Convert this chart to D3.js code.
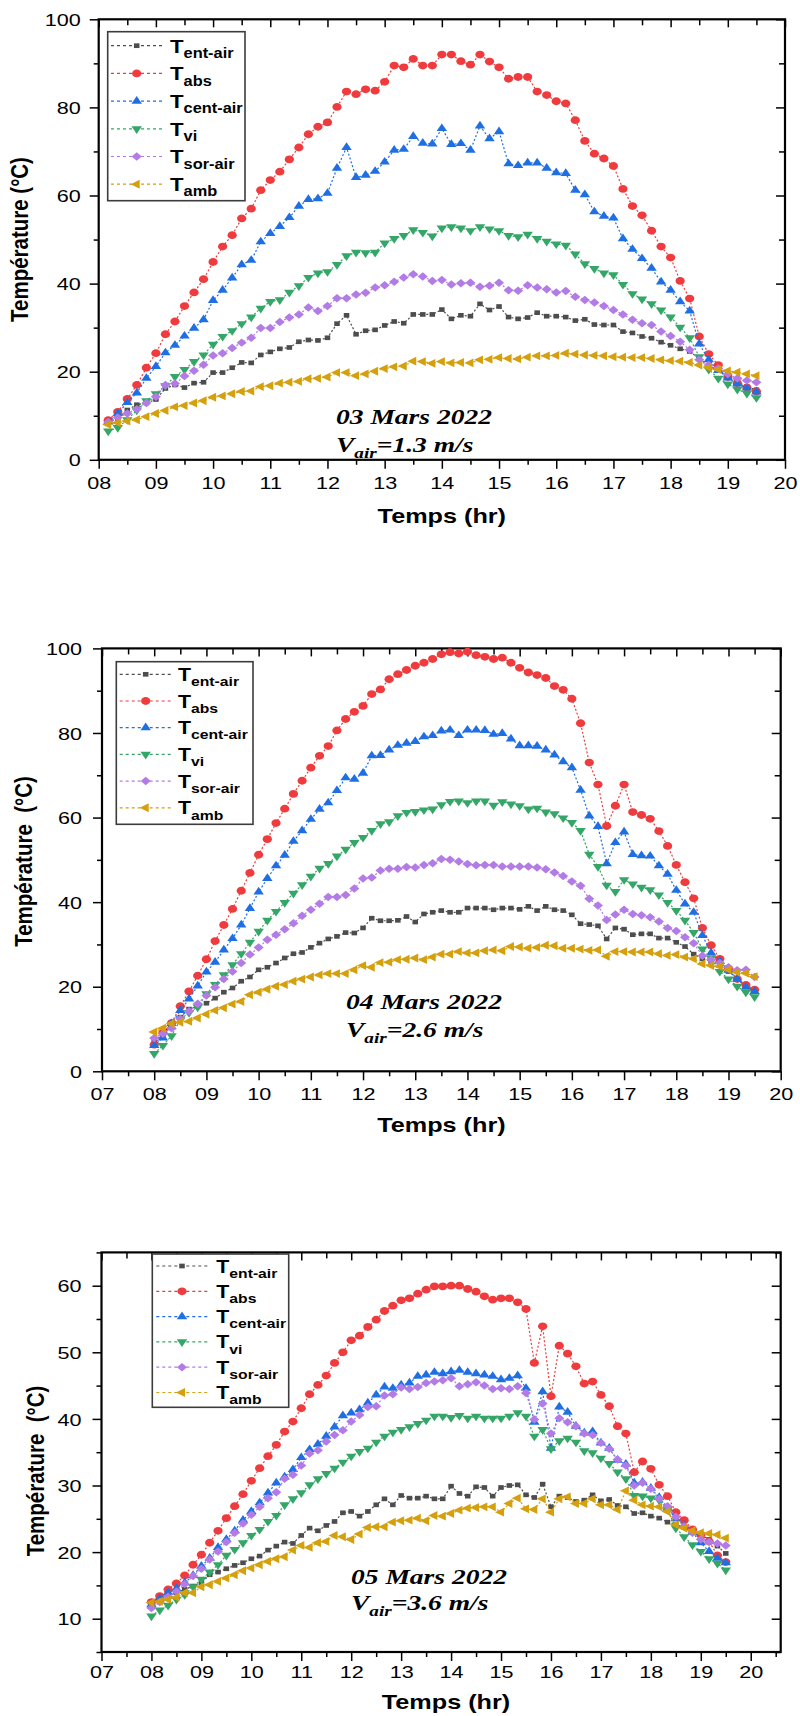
<!DOCTYPE html>
<html>
<head>
<meta charset="utf-8">
<script src="https://cdn.jsdelivr.net/npm/d3@7"></script>
<style>
body { margin: 0; background: #fff; }
text { font-family: "Liberation Sans", Arial, sans-serif; }
</style>
</head>
<body>
<svg id="fig" width="800" height="1716"></svg>
<script>
// time stamps (10 min steps)
var times = [
  "08:00","08:10","08:20","08:30","08:40","08:50",
  "09:00","09:10","09:20","09:30","09:40","09:50",
  "10:00","10:10","10:20","10:30","10:40","10:50",
  "11:00","11:10","11:20","11:30","11:40","11:50",
  "12:00","12:10","12:20","12:30","12:40","12:50",
  "13:00","13:10","13:20","13:30","13:40","13:50",
  "14:00","14:10","14:20","14:30","14:40","14:50",
  "15:00","15:10","15:20","15:30","15:40","15:50",
  "16:00","16:10","16:20","16:30","16:40","16:50",
  "17:00","17:10","17:20","17:30","17:40","17:50",
  "18:00","18:10","18:20","18:30","18:40","18:50",
  "19:00","19:10","19:20","19:30"
];
var times1 = times.slice(1); // 03 Mars starts at 08:10

// tick labels
var xTicks1 = [8,9,10,11,12,13,14,15,16,17,18,19,20];
var xTicks23 = [7,8,9,10,11,12,13,14,15,16,17,18,19,20];
var yTicks12 = [0,20,40,60,80,100];
var yMinor12 = [10,30,50,70,90];
var yTicks3 = [10,20,30,40,50,60];
var yMinor3 = [5,15,25,35,45,55,65];

var legendNames = ["ent-air","abs","cent-air","vi","sor-air","amb"];

// ---- 03 Mars 2022 ----
var ent1 = [8.6,9.4,11.3,12.5,12.9,13.7,16.2,17.0,16.4,17.4,17.6,19.8,19.8,20.9,22.1,22.0,23.8,24.5,25.2,25.5,26.8,27.2,27.1,27.7,30.9,32.8,28.5,29.3,29.5,30.5,31.4,31.0,33.0,33.0,33.0,34.1,32.0,32.8,32.6,35.4,34.0,34.8,32.4,32.0,32.3,33.4,32.6,32.6,32.4,31.6,31.9,30.7,30.6,30.6,29.1,28.8,28.0,27.6,26.7,26.0,25.2,24.6,23.0,21.3,20.3,19.1,17.7,16.6,15.9];
var abs1 = [9.0,10.9,13.8,17.0,20.9,24.2,28.5,31.4,34.9,38.0,41.0,44.9,48.4,51.0,54.8,57.0,61.2,63.5,65.4,68.2,70.9,73.9,75.6,76.6,80.1,83.6,83.0,84.1,83.8,85.8,89.5,89.1,91.0,89.5,89.5,92.0,92.0,90.5,89.7,92.0,90.4,89.1,86.5,86.9,86.9,83.6,82.8,81.4,80.9,77.1,72.4,69.5,68.4,66.7,61.5,57.6,55.5,52.0,48.4,45.9,40.6,36.6,28.0,24.0,21.5,18.8,17.4,16.4,15.5];
var cent1 = [8.6,10.5,13.0,15.2,18.5,21.2,24.3,26.0,28.1,29.9,31.8,36.2,38.5,41.3,44.3,45.3,49.5,51.4,53.0,55.0,57.6,59.1,59.3,60.5,66.2,70.9,64.1,64.6,65.5,67.6,70.3,70.5,73.4,71.9,71.7,75.2,71.6,71.8,70.3,75.8,72.9,74.5,67.2,66.8,67.4,67.4,66.2,65.2,65.0,61.2,60.2,56.3,55.3,54.9,50.2,47.8,45.7,43.5,40.4,38.5,35.9,33.8,26.3,22.7,20.3,18.6,17.2,16.3,15.4];
var vi1 = [6.5,7.3,9.1,11.3,13.4,15.0,16.8,18.9,20.5,22.3,23.8,26.2,28.0,29.3,30.9,32.4,34.4,35.9,36.3,38.0,39.5,41.4,42.4,42.7,44.3,46.3,47.1,47.0,47.1,49.2,50.2,50.9,52.2,51.6,50.8,52.6,52.9,52.6,52.0,52.9,52.4,52.0,50.9,50.6,51.2,50.2,49.6,49.0,48.7,46.7,44.5,43.4,42.4,42.0,39.8,37.7,36.5,35.4,34.0,32.4,30.1,27.7,23.4,20.5,18.5,17.2,16.0,15.1,14.1];
var sor1 = [8.6,9.6,10.5,11.5,12.9,14.3,17.0,17.3,19.0,20.2,21.6,23.7,24.2,25.4,26.6,27.7,29.9,29.9,31.3,32.3,33.0,34.6,33.8,34.9,36.7,36.7,37.5,37.9,39.1,39.6,40.4,41.4,42.1,41.6,40.6,40.8,39.8,40.1,40.2,39.3,39.5,40.2,38.5,38.4,39.6,39.1,38.7,38.0,38.3,37.0,36.3,35.7,34.9,34.0,33.0,31.8,31.0,30.6,29.1,28.1,26.8,25.0,22.7,21.5,20.7,19.5,18.5,18.0,17.6];
var amb1 = [8.0,8.4,8.8,9.1,9.8,10.5,11.2,12.0,12.3,12.9,13.4,14.2,14.5,15.0,15.5,15.6,16.6,16.8,17.4,17.6,17.8,18.4,18.5,18.8,19.8,19.8,19.1,19.5,20.1,20.7,21.1,21.3,22.4,22.3,21.9,22.3,22.0,22.1,22.0,22.7,22.8,23.2,23.0,22.9,23.3,23.6,23.6,23.7,24.2,24.0,23.8,23.7,23.6,23.4,23.3,23.2,23.2,23.0,22.7,22.5,22.4,22.1,21.5,20.9,20.5,20.2,19.9,19.5,19.1];

// ---- 04 Mars 2022 ----
var ent2 = [7.1,8.7,11.6,12.8,14.7,15.4,16.1,17.3,18.7,19.7,21.3,22.3,24.0,24.6,25.6,26.8,27.8,28.1,29.3,30.3,31.3,31.9,32.8,32.7,33.9,36.2,35.6,35.6,35.7,36.6,35.3,37.2,37.6,38.0,37.6,37.6,38.6,38.6,38.6,38.2,38.6,38.6,38.3,39.0,38.0,39.0,38.2,38.0,37.0,34.9,34.7,34.4,31.3,33.9,33.6,32.3,32.5,32.5,31.5,31.5,30.5,29.5,27.7,26.6,26.0,25.2,23.6,22.0,20.1,19.1];
var abs2 = [6.3,9.1,11.4,15.4,18.9,22.6,26.5,30.8,34.6,38.4,42.7,46.9,51.2,54.9,58.7,62.1,65.6,68.7,71.8,74.6,76.9,80.6,83.3,85.0,86.4,89.2,90.3,92.7,93.9,94.9,95.9,96.6,97.5,98.6,99.1,98.8,99.2,98.4,98.0,97.5,97.8,96.6,95.4,94.3,93.7,93.0,91.1,90.2,88.1,82.3,73.0,67.8,58.0,62.8,67.8,61.3,60.6,59.7,56.8,53.3,48.8,44.7,40.9,33.9,29.8,26.6,24.2,21.8,20.4,19.3];
var cent2 = [6.1,7.9,11.3,14.4,17.1,20.2,23.5,25.8,28.7,31.4,34.6,38.5,42.4,45.6,48.6,51.1,54.4,56.9,59.6,62.0,63.5,66.4,69.4,69.1,70.5,74.6,74.7,76.0,77.1,77.6,78.0,79.1,79.4,80.5,80.7,79.4,80.7,80.7,80.6,79.7,79.9,78.6,77.0,77.0,76.9,76.0,74.8,73.2,71.8,66.5,60.4,57.9,49.1,54.1,56.6,51.3,51.0,50.9,48.6,46.6,42.8,39.6,37.6,32.1,28.0,26.0,23.9,21.8,19.9,18.9];
var vi2 = [4.2,6.1,8.4,12.2,13.9,15.2,18.3,20.5,22.8,25.2,27.8,30.5,33.1,35.7,37.8,39.9,42.1,44.1,46.1,48.0,49.1,50.9,52.5,54.1,55.3,56.9,58.5,59.0,60.4,61.2,61.4,61.8,62.0,63.0,63.8,63.9,63.5,63.9,63.9,62.9,63.7,63.2,62.8,62.0,62.2,61.3,60.9,59.9,58.8,56.9,51.3,48.4,44.0,42.5,45.3,44.3,43.5,42.9,41.7,39.9,38.0,35.7,32.8,28.9,26.8,23.6,21.8,20.1,18.7,17.6];
var sor2 = [7.9,8.9,10.2,12.4,14.2,16.0,17.9,19.9,21.8,23.6,25.6,27.6,29.3,31.1,32.3,33.6,35.0,36.8,38.2,39.6,41.2,41.2,41.7,43.2,45.6,45.8,47.5,47.9,47.9,48.3,48.2,48.8,49.2,50.2,50.0,49.6,49.0,48.7,48.8,48.8,48.4,48.4,48.4,48.4,48.2,47.8,47.0,46.2,44.9,43.9,40.8,39.2,35.8,37.1,38.2,37.2,36.9,36.4,35.4,33.9,33.2,31.7,30.3,27.3,26.4,25.6,24.6,23.9,24.0,22.3];
var amb2 = [9.3,10.2,11.3,11.6,11.8,12.6,13.5,14.4,15.0,15.9,16.5,18.1,18.7,19.4,20.1,20.5,21.3,21.8,22.3,22.8,23.1,23.1,23.1,24.0,25.0,24.6,25.7,25.8,26.4,26.5,26.8,26.4,27.0,27.7,27.7,28.3,28.0,28.0,28.5,28.7,28.5,29.5,29.4,29.1,29.3,29.8,29.7,29.1,29.1,28.9,28.6,28.7,27.2,28.3,28.3,28.2,28.2,28.2,27.8,27.4,27.6,27.0,26.6,25.4,25.0,24.8,24.0,23.4,23.2,22.4];

// ---- 05 Mars 2022 ----
var ent3 = [12.4,12.5,13.4,13.9,14.4,14.9,15.4,16.6,17.0,17.5,18.0,18.4,19.0,19.4,20.3,20.9,21.5,21.3,22.5,23.6,23.2,24.0,24.6,25.9,26.1,25.4,26.1,27.1,28.0,27.1,28.5,28.1,28.1,28.4,28.0,28.0,
            29.9,28.8,28.4,29.8,29.7,28.4,29.7,30.0,30.1,28.6,28.2,30.2,26.8,28.4,28.2,27.6,27.8,28.6,27.7,27.9,27.0,26.8,25.8,25.9,25.4,25.1,24.5,24.2,23.7,23.1,22.6,21.9,20.9,19.8];
var abs3 = [12.5,13.4,14.4,15.3,16.5,18.1,19.6,21.4,23.2,25.1,26.9,28.7,30.7,32.6,34.4,36.1,38.1,39.6,41.6,43.7,45.1,46.5,48.4,50.0,51.8,52.5,53.8,54.9,56.2,57.0,57.8,58.1,58.8,59.4,59.9,59.9,
            60.0,60.0,59.5,59.1,58.4,57.9,58.1,58.1,57.5,56.5,48.4,53.9,43.4,51.0,49.8,47.9,45.3,45.6,43.6,41.9,38.9,37.8,32.0,33.6,32.5,30.1,28.4,26.0,24.8,23.4,22.6,21.6,19.5,18.5];
var cent3 = [12.1,13.0,13.9,14.5,15.4,16.5,17.9,19.1,20.7,21.9,23.2,24.8,26.1,27.4,28.9,30.4,31.3,32.4,34.2,35.4,36.2,37.4,38.8,40.5,40.9,41.4,42.4,43.6,44.8,44.6,45.1,45.4,46.4,46.6,47.0,46.8,
             47.1,47.3,47.0,46.8,46.6,46.4,45.9,46.1,46.5,44.6,39.5,44.1,35.6,41.8,41.0,38.9,37.9,38.1,36.4,35.6,33.8,33.2,30.4,30.5,29.6,28.2,26.6,25.0,24.0,23.0,21.4,20.1,19.1,18.4];
var vi3 = [10.4,11.3,12.0,12.9,13.6,14.8,15.9,17.0,18.1,19.5,20.4,21.4,22.5,23.4,24.6,25.5,27.1,28.0,28.9,30.1,31.0,31.8,32.6,33.5,34.4,35.1,35.6,36.5,37.4,38.0,38.4,38.8,39.3,39.8,40.4,40.4,
           40.2,40.5,40.1,40.4,40.1,40.1,40.1,40.4,40.9,40.4,37.4,38.4,35.5,36.7,37.1,36.5,35.2,34.9,34.1,33.3,32.0,31.0,28.5,28.4,28.1,27.8,26.4,23.6,22.3,21.1,20.1,19.0,18.3,17.3];
var sor3 = [11.6,12.5,13.3,14.1,15.2,16.4,17.5,18.9,20.1,21.5,22.9,24.3,25.6,26.8,28.1,29.0,31.0,31.6,33.0,34.8,35.3,36.6,37.6,38.3,39.6,40.6,41.8,41.9,43.5,43.7,44.7,44.5,44.8,45.4,45.6,45.8,
            46.1,44.9,45.2,45.5,45.0,44.5,44.6,44.5,44.9,43.9,39.9,42.3,37.8,40.1,39.5,38.9,37.8,37.6,36.4,35.5,33.9,33.0,30.0,30.4,29.5,28.0,26.9,25.3,23.9,22.9,21.9,21.5,21.3,21.0];
var amb3 = [12.4,12.6,12.9,13.2,13.9,13.9,14.8,15.1,15.6,16.1,16.6,17.2,17.6,18.1,18.6,19.0,19.3,20.3,21.0,20.7,21.4,21.6,22.5,22.3,21.9,22.7,23.7,23.8,23.8,24.5,24.7,24.8,25.1,24.7,25.5,25.4,
            25.8,26.3,26.6,26.7,26.8,26.8,26.0,27.3,28.1,26.5,26.4,28.0,26.0,28.0,28.3,27.3,27.3,28.0,27.1,27.1,26.4,29.2,27.8,27.1,26.9,26.8,26.1,24.1,23.6,23.2,22.9,22.8,22.6,22.1];

// styles
var colors = ["#4d4d4d","#ef3b3d","#1f6fe2","#34a667","#b27be5","#d5a00d"];
var shapes = ["square","circle","up","down","diamond","left"];

var panels = [
  { date: "03 Mars 2022", vair: "=1.3 m/s", times: times1,
    series: [ent1, abs1, cent1, vi1, sor1, amb1],
    xDom: [8, 20], xMajor: xTicks1, yDom: [0, 100], yMajor: yTicks12, yMinor: yMinor12,
    box: {l: 98.7, r: 785, t: 19.3, b: 459.8}, xOff: 29, yGap: 18,
    xTitle: [441.8, 522.7], yTitle: [28, 239.5, "Température (°C)"],
    leg: {x0: 107.7, x1: 245, y0: 31.7, y1: 200.7, row: 45.7, step: 27.7, l1: 111, l2: 164, m: 136.7, tx: 170, k: 1},
    ann: {x: 336, y1: 424, y2: 452} },
  { date: "04 Mars 2022", vair: "=2.6 m/s", times: times,
    series: [ent2, abs2, cent2, vi2, sor2, amb2],
    xDom: [7, 20], xMajor: xTicks23, yDom: [0, 100], yMajor: yTicks12, yMinor: yMinor12,
    box: {l: 102, r: 780.7, t: 648.4, b: 1071.3}, xOff: 28.7, yGap: 20,
    xTitle: [441.4, 1131.7], yTitle: [31.7, 861.5, "Température\u00a0\u00a0(°C)"],
    leg: {x0: 116.3, x1: 253, y0: 661.7, y1: 824.3, row: 674.3, step: 26.7, l1: 119.7, l2: 171.3, m: 145.7, tx: 178, k: 0.96},
    ann: {x: 346, y1: 1009.3, y2: 1036.7} },
  { date: "05 Mars 2022", vair: "=3.6 m/s", times: times,
    series: [ent3, abs3, cent3, vi3, sor3, amb3],
    xDom: [7, 20.6], xMajor: xTicks23, yDom: [5, 65], yMajor: yTicks3, yMinor: yMinor3,
    box: {l: 101.5, r: 780.7, t: 1252.4, b: 1652}, xOff: 26, yGap: 20,
    xTitle: [446, 1709], yTitle: [43.5, 1471, "Température\u00a0\u00a0(°C)"],
    leg: {x0: 152.3, x1: 288.7, y0: 1254, y1: 1407.3, row: 1266, step: 25.3, l1: 156.3, l2: 208, m: 182, tx: 216.3, k: 0.96},
    ann: {x: 351, y1: 1584, y2: 1610} }
];

var svg = d3.select("#fig");

function hours(s) {
  var p = s.split(":");
  return +p[0] + (+p[1]) / 60;
}

// symbol path + rotation for each marker kind
function marker(sel, shape, color) {
  var sym = d3.symbolCircle, size = 48, rot = 0;
  if (shape == "square") { sym = d3.symbolSquare; size = 22; }
  if (shape == "up") { sym = d3.symbolTriangle; size = 34; }
  if (shape == "down") { sym = d3.symbolTriangle; size = 34; rot = 180; }
  if (shape == "left") { sym = d3.symbolTriangle; size = 34; rot = -90; }
  if (shape == "diamond") { sym = d3.symbolSquare; size = 36; rot = 45; }
  sel.attr("d", d3.symbol().type(sym).size(size)())
    .attr("fill", color);
  return rot;
}

panels.forEach(function(p) {
  var g = svg.append("g");
  var x = d3.scaleLinear().domain(p.xDom).range([p.box.l, p.box.r]);
  var y = d3.scaleLinear().domain(p.yDom).range([p.box.b, p.box.t]);

  var xMinor = p.xMajor.map(function(d) { return d + 0.5; })
    .filter(function(d) { return d < p.xDom[1]; });

  // bottom axis, outward ticks
  var bot = g.append("g").attr("transform", "translate(0," + p.box.b + ")");
  bot.call(d3.axisBottom(x).tickValues(p.xMajor).tickSize(9).tickFormat(d3.format("02d")));
  bot.append("g").call(d3.axisBottom(x).tickValues(xMinor).tickSize(5).tickFormat(""));
  // top axis, inward ticks
  var top = g.append("g").attr("transform", "translate(0," + p.box.t + ")");
  top.call(d3.axisTop(x).tickValues(p.xMajor).tickSize(-8).tickFormat(""));
  top.append("g").call(d3.axisTop(x).tickValues(xMinor).tickSize(-6).tickFormat(""));
  // left axis
  var left = g.append("g").attr("transform", "translate(" + p.box.l + ",0)");
  left.call(d3.axisLeft(y).tickValues(p.yMajor).tickSize(9));
  left.append("g").call(d3.axisLeft(y).tickValues(p.yMinor).tickSize(5).tickFormat(""));
  // right axis
  var right = g.append("g").attr("transform", "translate(" + p.box.r + ",0)");
  right.call(d3.axisRight(y).tickValues(p.yMajor).tickSize(-9).tickFormat(""));
  right.append("g").call(d3.axisRight(y).tickValues(p.yMinor).tickSize(-6).tickFormat(""));

  g.selectAll(".domain").remove();
  g.selectAll(".tick line").attr("stroke", "#000").attr("stroke-width", 1.5);
  bot.selectAll(".tick text")
    .attr("y", p.xOff).attr("dy", null)
    .attr("transform", "scale(1.27,1)")
    .style("font-size", "17px").attr("fill", "#000");
  left.selectAll(".tick text")
    .attr("x", -p.yGap / 1.27).attr("dy", "0.36em")
    .attr("transform", "scale(1.27,1)")
    .style("font-size", "17px").attr("fill", "#000");
  g.selectAll(".tick text").attr("font-family", null);

  // frame
  g.append("rect")
    .attr("x", p.box.l).attr("y", p.box.t)
    .attr("width", p.box.r - p.box.l).attr("height", p.box.b - p.box.t)
    .attr("fill", "none").attr("stroke", "#000").attr("stroke-width", 2.2);

  // series
  var tx = p.times.map(hours);
  p.series.forEach(function(vals, k) {
    var pts = vals.map(function(v, i) { return [tx[i], v]; });
    g.append("path")
      .datum(pts)
      .attr("fill", "none")
      .attr("stroke", colors[k])
      .attr("stroke-width", 1.2)
      .attr("stroke-dasharray", "2,2")
      .attr("d", d3.line()
        .x(function(d) { return x(d[0]); })
        .y(function(d) { return y(d[1]); }));
    g.append("g").selectAll("path")
      .data(pts)
      .enter().append("path")
      .each(function(d) {
        var rot = marker(d3.select(this), shapes[k], colors[k]);
        d3.select(this).attr("transform", "translate(" + x(d[0]) + "," + y(d[1]) + ") scale(1.18,1) rotate(" + rot + ")");
      });
  });

  // legend
  var L = p.leg;
  g.append("rect")
    .attr("x", L.x0).attr("y", L.y0)
    .attr("width", L.x1 - L.x0).attr("height", L.y1 - L.y0)
    .attr("fill", "#fff").attr("stroke", "#3c3c3c").attr("stroke-width", 1.6);
  legendNames.forEach(function(name, k) {
    var ry = L.row + k * L.step;
    g.append("line")
      .attr("x1", L.l1).attr("x2", L.l2).attr("y1", ry).attr("y2", ry)
      .attr("stroke", colors[k]).attr("stroke-width", 1.2).attr("stroke-dasharray", "3,3");
    var m = g.append("path");
    var rot = marker(m, shapes[k], colors[k]);
    m.attr("transform", "translate(" + L.m + "," + ry + ") scale(1.18,1) rotate(" + rot + ")");
    var t = g.append("text")
      .attr("transform", "translate(" + L.tx + "," + (ry + 6.8 * L.k) + ") scale(1.17,1)")
      .style("font-weight", "bold").style("font-size", (19 * L.k) + "px");
    t.append("tspan").text("T");
    t.append("tspan").attr("dy", 5.4 * L.k).style("font-size", (14 * L.k) + "px").text(name);
  });

  // date / air speed annotation
  var A = p.ann;
  g.append("text")
    .attr("transform", "translate(" + A.x + "," + A.y1 + ") scale(1.28,1)")
    .style("font-family", "'Liberation Serif','Times New Roman',serif")
    .style("font-weight", "bold").style("font-style", "italic").style("font-size", "21.5px")
    .text(p.date);
  var v = g.append("text")
    .attr("transform", "translate(" + A.x + "," + A.y2 + ") scale(1.28,1)")
    .style("font-family", "'Liberation Serif','Times New Roman',serif")
    .style("font-weight", "bold").style("font-style", "italic").style("font-size", "21.5px");
  v.append("tspan").text("V");
  v.append("tspan").attr("dy", 6).style("font-size", "15px").text("air");
  v.append("tspan").attr("dy", -6).text(p.vair);

  // axis titles
  g.append("text")
    .attr("transform", "translate(" + p.xTitle[0] + "," + p.xTitle[1] + ") scale(1.23,1)")
    .attr("text-anchor", "middle")
    .style("font-weight", "bold").style("font-size", "20.5px")
    .text("Temps (hr)");
  g.append("text")
    .attr("transform", "translate(" + p.yTitle[0] + "," + p.yTitle[1] + ") scale(1.2,1) rotate(-90)")
    .attr("text-anchor", "middle")
    .style("font-weight", "bold").style("font-size", "20.5px")
    .text(p.yTitle[2]);
});
</script>
</body>
</html>
